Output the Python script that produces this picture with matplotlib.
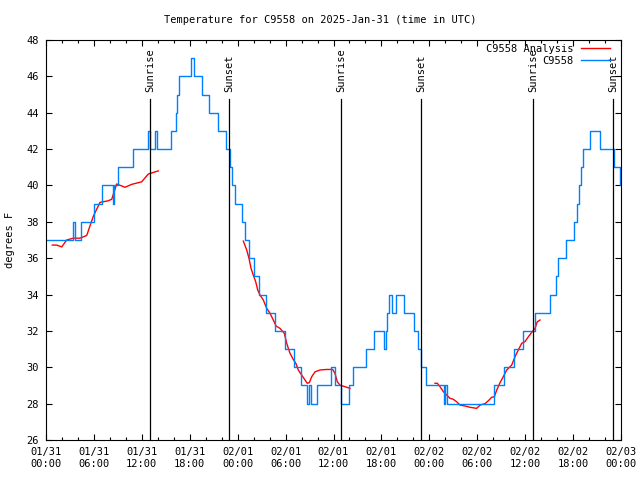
import matplotlib
matplotlib.use("Agg")
import matplotlib.pyplot as plt
import matplotlib.dates as mdates
import pandas as pd

start = pd.Timestamp("2025-01-31 00:00")

# observations: hours after 01/31 00:00 UTC and temperature (F), step style
obs_hours = [0.00, 3.42, 3.67, 4.38, 5.95, 7.01, 8.35, 8.51, 9.02, 10.89,
             12.77, 13.02, 13.65, 13.96, 15.65, 16.22, 16.40, 16.65, 18.16, 18.57,
             19.53, 20.37, 21.54, 22.48, 23.04, 23.29, 23.67, 24.54, 24.92, 25.42,
             26.05, 26.67, 27.61, 28.68, 29.89, 31.02, 31.99, 32.62, 32.93, 33.12,
             33.91, 35.69, 36.25, 37.00, 38.00, 38.38, 40.07, 41.07, 42.32, 42.54,
             42.70, 42.89, 43.33, 43.83, 44.89, 46.08, 46.58, 46.90, 47.58, 49.87,
             50.00, 50.15, 56.10, 57.35, 58.60, 59.67, 61.23, 63.11, 63.86, 64.11,
             65.11, 66.12, 66.55, 66.80, 66.99, 67.24, 68.12, 69.43, 71.12, 71.88,
             72.00]
obs_temp = [37, 38, 37, 38, 39, 40, 39, 40, 41, 42,
            43, 42, 43, 42, 43, 44, 45, 46, 47, 46,
            45, 44, 43, 42, 41, 40, 39, 38, 37, 36,
            35, 34, 33, 32, 31, 30, 29, 28, 29, 28,
            29, 30, 29, 28, 29, 30, 31, 32, 31, 32,
            33, 34, 33, 34, 33, 32, 31, 30, 29, 28,
            29, 28, 29, 30, 31, 32, 33, 34, 35, 36,
            37, 38, 39, 40, 41, 42, 43, 42, 41, 40,
            40]

# analysis, three separate runs
ana1_hours = [0.79, 1.34, 1.97, 2.59, 3.42, 4.26, 5.10, 5.92, 6.76, 7.73,
              8.23, 8.85, 9.89, 10.73, 11.98, 12.81, 14.06]
ana1_temp = [36.72, 36.72, 36.62, 37.0, 37.1, 37.1, 37.25, 38.3, 39.07, 39.15,
             39.24, 40.08, 39.9, 40.06, 40.2, 40.63, 40.8]
ana2_hours = [24.71, 25.13, 25.42, 25.67, 25.96, 26.26, 26.51, 26.80, 27.21, 27.64,
              28.05, 28.46, 28.80, 29.30, 29.84, 30.14, 30.55, 30.97, 31.30, 31.59,
              32.02, 32.43, 32.72, 32.97, 33.27, 33.69, 34.31, 35.15, 35.90, 36.19,
              36.48, 36.81, 37.44, 38.07]
ana2_temp = [36.94, 36.45, 35.99, 35.44, 35.07, 34.7, 34.25, 33.97, 33.7, 33.24,
             32.97, 32.6, 32.27, 32.14, 31.87, 31.32, 30.77, 30.43, 30.2, 29.85,
             29.57, 29.3, 29.12, 29.15, 29.48, 29.75, 29.85, 29.88, 29.88, 29.66,
             29.2, 29.02, 28.93, 28.84]
ana3_hours = [48.71, 49.00, 49.34, 49.75, 50.18, 50.59, 51.00, 51.43, 51.84, 52.47,
              53.09, 53.93, 54.35, 54.97, 55.39, 55.81, 56.14, 56.44, 56.85, 57.26,
              57.69, 58.31, 58.73, 59.14, 59.57, 59.98, 60.40, 60.82, 61.23, 61.52,
              61.86]
ana3_temp = [29.12, 29.12, 28.93, 28.66, 28.47, 28.29, 28.24, 28.1, 27.92, 27.87,
             27.8, 27.74, 27.92, 28.0, 28.16, 28.35, 28.38, 28.75, 29.15, 29.48,
             29.85, 30.12, 30.58, 30.95, 31.32, 31.41, 31.68, 31.92, 32.14, 32.5,
             32.6]

sun_hours = [13.02, 22.95, 36.96, 46.98, 60.98, 71.02]
sun_labels = ["Sunrise", "Sunset", "Sunrise", "Sunset", "Sunrise", "Sunset"]


def to_time(hours):
    return start + pd.to_timedelta(hours, unit="h")


plt.rcParams["font.family"] = ["DejaVu Sans Mono"]
fs = 7.5

fig = plt.figure(figsize=(6.4, 4.8), dpi=100)
ax = fig.add_axes([46 / 640, 40 / 480, 575 / 640, 400 / 480])

red = "#ff0000"
blue = "#0080ff"
ax.plot(to_time(ana1_hours), ana1_temp, color=red, lw=1.0, label="C9558 Analysis")
ax.plot(to_time(ana2_hours), ana2_temp, color=red, lw=1.0)
ax.plot(to_time(ana3_hours), ana3_temp, color=red, lw=1.0)
ax.plot(to_time(obs_hours), obs_temp, color=blue, lw=1.0, drawstyle="steps-post", label="C9558")

for h, lab in zip(sun_hours, sun_labels):
    t = to_time(h)
    ax.axvline(t, ymin=0, ymax=0.8525, color="black", lw=0.9)
    ax.text(t, 0.871, lab, transform=ax.get_xaxis_transform(), rotation=90,
            ha="center", va="bottom", fontsize=fs)

ax.set_xlim(start, start + pd.Timedelta(hours=72))
ax.set_ylim(26, 48)
ax.set_yticks(range(26, 49, 2))
ax.xaxis.set_major_locator(mdates.HourLocator(byhour=[0, 6, 12, 18]))
ax.xaxis.set_minor_locator(mdates.HourLocator(byhour=range(0, 24, 2)))
ax.xaxis.set_major_formatter(mdates.DateFormatter("%m/%d\n%H:%M"))

ax.tick_params(which="both", direction="in", top=True, right=True, labelsize=fs, width=0.8)
ax.tick_params(which="major", length=4)
ax.tick_params(which="minor", length=2.5)
ax.tick_params(axis="x", pad=5)
ax.tick_params(axis="y", pad=5)
for s in ax.spines.values():
    s.set_linewidth(0.8)

ax.set_ylabel("degrees F", fontsize=fs, labelpad=8)
fig.text(0.5, 1 - 20 / 480, "Temperature for C9558 on 2025-Jan-31 (time in UTC)",
         ha="center", va="center", fontsize=fs)

ax.legend(loc="upper right", bbox_to_anchor=(0.981, 0.99), frameon=False, markerfirst=False,
          fontsize=fs, handlelength=2.8, handletextpad=0.7, labelspacing=0.15,
          borderpad=0, borderaxespad=0)

fig.savefig("out.png", dpi=100)
